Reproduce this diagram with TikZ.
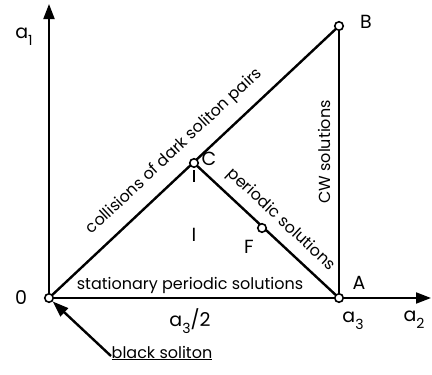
\documentclass[tikz,border=0pt]{standalone}
\usepackage{fontspec}
\setmainfont{Poppins}
\usetikzlibrary{arrows.meta}
\begin{document}
\begin{tikzpicture}[x=1pt,y=-1pt,
  line/.style={line width=2.4pt},
  axis/.style={line width=2pt,-{Triangle[length=15pt,width=11pt]}},
  pt/.style={circle,draw,fill=white,line width=1.6pt,inner sep=0pt,minimum size=8.5pt},
  lbl/.style={font=\fontsize{19}{21}\selectfont,inner sep=1pt},
  txt/.style={font=\fontsize{16}{18}\selectfont,inner sep=1pt}]
\useasboundingbox (0,0) rectangle (432,375);
\coordinate (O) at (49,298);
\coordinate (Ytip) at (49,4);
\coordinate (Xtip) at (431,298);
\coordinate (A) at (339,298);
\coordinate (B) at (339,26);
\coordinate (C) at (194,163);
\coordinate (F) at (262,228);
\coordinate (T1) at (194,170);
\coordinate (T2) at (194,182);
\coordinate (Ar) at (111,356);
\draw[axis] (O) -- (Ytip);
\draw[axis] (O) -- (Xtip);
\draw[line] (O) -- (B);
\draw[line] (B) -- (A);
\draw[line] (C) -- (A);
\draw[line width=1.8pt] (T1) -- (T2);
\node[pt] (nO) at (O) {};
\node[pt] (nA) at (A) {};
\node[pt] (nB) at (B) {};
\node[pt] (nC) at (C) {};
\node[pt] (nF) at (F) {};
\node[lbl] (la1) at (24,37) {a\raisebox{-0.7ex}{\fontsize{14}{16}\selectfont 1}};
\node[lbl] (l0) at (21,298) {0};
\node[lbl] (lB) at (366,22) {B};
\node[lbl] (lC) at (209,159) {C};
\node[lbl] (lA) at (359,283) {A};
\node[lbl] (lF) at (249,247) {F};
\node[lbl] (lI) at (194,235) {I};
\node[lbl] (la3) at (353,321) {a\raisebox{-0.7ex}{\fontsize{14}{16}\selectfont 3}};
\node[lbl] (la2) at (414,320) {a\raisebox{-0.7ex}{\fontsize{14}{16}\selectfont 2}};
\node[lbl] (la32) at (190,321) {a\raisebox{-0.7ex}{\fontsize{14}{16}\selectfont 3}/2};
\node[txt] (bs) at (162,353) {\underline{black soliton}};
\draw[line width=2.4pt,-{Triangle[length=16pt,width=11pt]}] (Ar) -- (nO);
\node[txt,rotate=43.2] (coll) at (174.5,151.5) {collisions of dark soliton pairs};
\node[txt,rotate=-43.2] (per) at (281,220) {periodic solutions};
\node[txt,rotate=90] (cw) at (324,152) {CW solutions};
\node[txt] (stat) at (190,285) {stationary periodic solutions};
\end{tikzpicture}
\end{document}
